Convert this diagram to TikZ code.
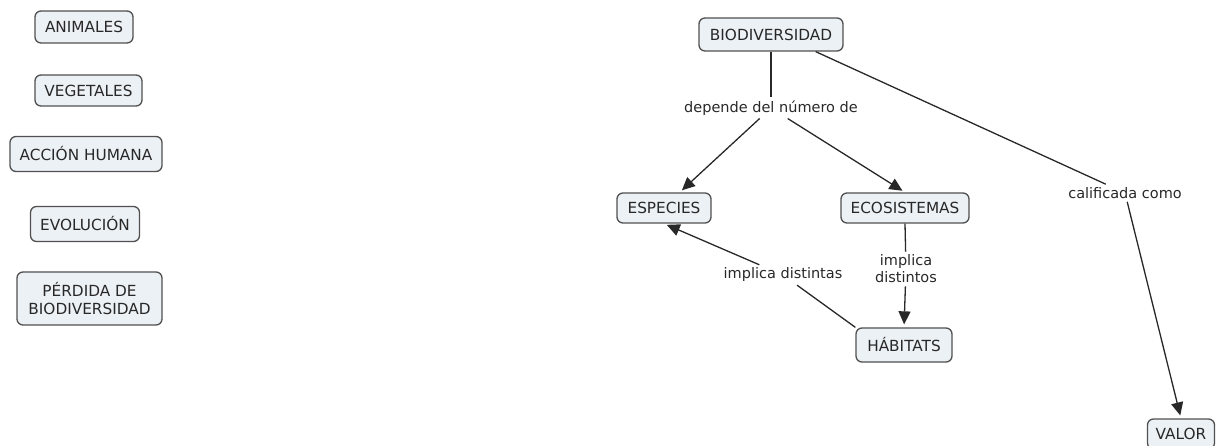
\documentclass[tikz,border=0pt]{standalone}
\usepackage{fontspec}
\setmainfont{DejaVu Sans}
\usetikzlibrary{arrows.meta}
\definecolor{boxfill}{RGB}{236,241,245}
\definecolor{boxline}{RGB}{80,80,80}
\definecolor{txt}{RGB}{40,40,40}
\begin{document}
\begin{tikzpicture}[x=1pt,y=-1pt,
  concept/.style={draw=boxline, line width=1.3pt, fill=boxfill, rounded corners=6pt,
    inner xsep=4pt, inner ysep=0pt, font=\fontsize{15.3}{17.5}\selectfont, text=txt, align=center},
  linklabel/.style={font=\fontsize{14.5}{17}\selectfont, text=txt, inner sep=3pt, align=center},
  conn/.style={draw=txt, line width=1.3pt},
  arr/.style={conn, -{Triangle[length=13pt,width=12pt]}, shorten >=3pt}]
\useasboundingbox (0,0) rectangle (1223,446);
% left column
\node[concept, minimum width=98pt, minimum height=32pt] (animales) at (84,27) {ANIMALES};
\node[concept, minimum width=107pt, minimum height=31pt] (vegetales) at (88.5,90.5) {VEGETALES};
\node[concept, minimum width=152pt, minimum height=35pt] (accion) at (86,154) {ACCIÓN HUMANA};
\node[concept, minimum width=109pt, minimum height=35pt] (evolucion) at (85,224) {EVOLUCIÓN};
\node[concept, minimum width=145pt, minimum height=53pt] (perdida) at (89.5,298.5) {PÉRDIDA DE\\BIODIVERSIDAD};
% map
\node[concept, minimum width=144pt, minimum height=33pt] (bio) at (771,34.5) {BIODIVERSIDAD};
\node[concept, minimum width=94pt, minimum height=30pt] (especies) at (664,208) {ESPECIES};
\node[concept, minimum width=128pt, minimum height=30pt] (eco) at (905,208) {ECOSISTEMAS};
\node[concept, minimum width=96pt, minimum height=34pt] (habitats) at (904,345) {HÁBITATS};
\node[concept, minimum width=67pt, minimum height=30pt] (valor) at (1181,434) {VALOR};
% link labels
\node[linklabel] (dep) at (771,108) {depende del número de};
\node[linklabel] (impa) at (783,275) {implica distintas};
\node[linklabel] (impo) at (906,269) {implica\\distintos};
\node[linklabel] (cal) at (1125,193) {calificada como};
% connectors
\draw[conn] (bio) -- (dep);
\draw[arr] (dep) -- (especies.45);
\draw[arr] (dep) -- (eco.north);
\draw[conn] (bio.-21) -- (cal);
\draw[arr] (cal) -- (valor.north);
\draw[conn] (eco.south) -- (impo);
\draw[arr] (impo) -- (habitats.north);
\draw[conn] (habitats.north west) -- (impa);
\draw[arr] (impa) -- (especies.south);
\end{tikzpicture}
\end{document}
